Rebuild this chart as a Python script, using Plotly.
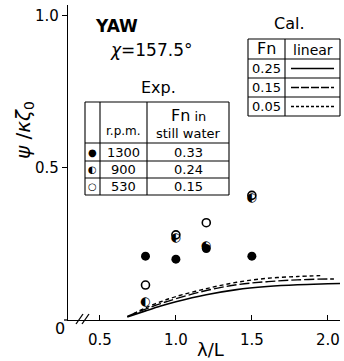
import plotly.graph_objects as go

# ---------------- data ----------------
lam_exp = [0.8, 1.0, 1.2, 1.5]
psi_1300 = [0.21, 0.20, 0.235, 0.21]
psi_900 = [0.06, 0.27, 0.245, 0.40]
psi_530 = [0.115, 0.28, 0.32, 0.41]

lam_cal_025 = [0.68, 0.8, 0.9, 1.0, 1.2, 1.4, 1.6, 1.8, 2.0, 2.08]
psi_cal_025 = [0.010, 0.030, 0.046, 0.060, 0.083, 0.100, 0.110, 0.116, 0.119, 0.120]
lam_cal_015 = [0.68, 0.8, 0.9, 1.0, 1.2, 1.4, 1.6, 1.8, 2.0, 2.04]
psi_cal_015 = [0.012, 0.036, 0.054, 0.070, 0.097, 0.116, 0.126, 0.132, 0.135, 0.135]
lam_cal_005 = [0.72, 0.8, 0.9, 1.0, 1.2, 1.4, 1.6, 1.8, 1.95]
psi_cal_005 = [0.020, 0.040, 0.060, 0.077, 0.103, 0.124, 0.137, 0.143, 0.146]

xticks = [0.5, 1.0, 1.5, 2.0]
xticklabels = ["0.5", "1.0", "1.5", "2.0"]
yticks = [0.5, 1.0]
yticklabels = ["0.5", "1.0"]

exp_rows = [("●", "1300", "0.33"), ("◐", "900", "0.24"), ("○", "530", "0.15")]
cal_rows = [("0.25", "solid"), ("0.15", "dash"), ("0.05", "dot")]

FONT = "DejaVu Sans"
W, H = 344, 361
ML, MR, MT, MB = 68, 4, 5, 41
PW, PH = W - ML - MR, H - MT - MB


def PX(x):
    return (x - ML) / PW


def PY(y):
    return (H - MB - y) / PH


fig = go.Figure()

# calculated curves
fig.add_trace(go.Scatter(x=lam_cal_025, y=psi_cal_025, mode="lines", line=dict(color="black", width=1.6, shape="spline"), showlegend=False))
fig.add_trace(go.Scatter(x=lam_cal_015, y=psi_cal_015, mode="lines", line=dict(color="black", width=1.4, dash="10px,3px", shape="spline"), showlegend=False))
fig.add_trace(go.Scatter(x=lam_cal_005, y=psi_cal_005, mode="lines", line=dict(color="black", width=1.4, dash="4px,3px", shape="spline"), showlegend=False))

# experiments
fig.add_trace(go.Scatter(x=lam_exp, y=psi_530, mode="markers",
                         marker=dict(symbol="circle-open", size=8, color="black", line=dict(width=1.6)), showlegend=False))
fig.add_trace(go.Scatter(x=lam_exp, y=psi_900, mode="text", text=["◐"] * len(lam_exp),
                         textfont=dict(family="DejaVu Sans", size=12, color="black"), showlegend=False))
fig.add_trace(go.Scatter(x=lam_exp, y=psi_1300, mode="markers",
                         marker=dict(symbol="circle", size=9, color="black"), showlegend=False))

shapes = []
ann = []


def line(x0, y0, x1, y1, w=1.2, dash="solid"):
    shapes.append(dict(type="line", xref="paper", yref="paper", x0=PX(x0), y0=PY(y0), x1=PX(x1), y1=PY(y1),
                       line=dict(color="black", width=w, dash=dash), layer="above"))


def text(x, y, s, size=12, **kw):
    ann.append(dict(xref="paper", yref="paper", x=PX(x), y=PY(y), text=s, showarrow=False,
                    font=dict(family=kw.pop("family", FONT), size=size, color="black"),
                    xanchor=kw.pop("xanchor", "center"), yanchor=kw.pop("yanchor", "middle"), **kw))


# axis break marks and small axis extension left of origin
line(76, 324, 83, 314, 1.3)
line(82, 324, 89, 314, 1.3)
line(64, 320, 68, 320, 1.3)

# titles / labels
text(116, 26, "<b>YAW</b>", 17)
text(151, 50, "<i>χ</i>=157.5°", 17)
text(158, 88, "Exp.", 16)
text(289, 23, "Cal.", 16)
text(24, 130, "<i>ψ</i> /<i>κζ</i><sub>0</sub>", 20, textangle=-90)
text(210, 349, "λ/L", 18)
text(60, 329, "0", 16)

# Exp table
ex = [85, 100, 147, 229]
ey = [102, 143, 161, 178, 195]
for x in ex:
    line(x, ey[0], x, ey[-1], 1.1)
for y in ey:
    line(ex[0], y, ex[-1], y, 1.1)
text(123.5, 131, "r.p.m.", 12)
text(188, 116, "Fn<span style='font-size:13px'> in</span>", 16)
text(188, 133, "still water", 13)
for i, (sym, rpm, fn) in enumerate(exp_rows):
    yc = (ey[i + 1] + ey[i + 2]) / 2
    text(92.5, yc, sym, 10)
    text(123.5, yc, rpm, 13)
    text(188, yc, fn, 13)

# Cal table
cx = [248, 285, 340]
cy = [39, 59, 78, 97, 116]
for x in cx:
    line(x, cy[0], x, cy[-1], 1.1)
for y in cy:
    line(cx[0], y, cx[-1], y, 1.1)
text(266.5, 49, "Fn", 16)
text(312.5, 50, "linear", 14)
dash_map = {"solid": "solid", "dash": "8px,2px", "dot": "3px,2px"}
for i, (fn, st) in enumerate(cal_rows):
    yc = (cy[i + 1] + cy[i + 2]) / 2
    text(266.5, yc, fn, 13)
    line(291, yc, 334, yc, 1.4, dash_map[st])

fig.update_layout(
    width=W, height=H,
    margin=dict(l=ML, r=MR, t=MT, b=MB),
    paper_bgcolor="white", plot_bgcolor="white",
    shapes=shapes, annotations=ann,
    font=dict(family=FONT, color="black"),
    xaxis=dict(range=[0.29, 2.08], tickvals=xticks, ticktext=xticklabels, showgrid=False, zeroline=False,
               showline=True, linecolor="black", linewidth=1.3, ticks="inside", ticklen=5, tickcolor="black",
               ticklabelstandoff=6,
               tickfont=dict(size=15, family=FONT), fixedrange=True),
    yaxis=dict(range=[0, 1.036], tickvals=yticks, ticktext=yticklabels, showgrid=False, zeroline=False,
               showline=True, linecolor="black", linewidth=1.3, ticks="outside", ticklen=5, tickcolor="black",
               tickfont=dict(size=15, family=FONT), fixedrange=True),
)

fig.write_html("out.html", config={"displayModeBar": False},
               post_script="document.body.style.margin='0px';document.body.style.overflow='hidden';")
